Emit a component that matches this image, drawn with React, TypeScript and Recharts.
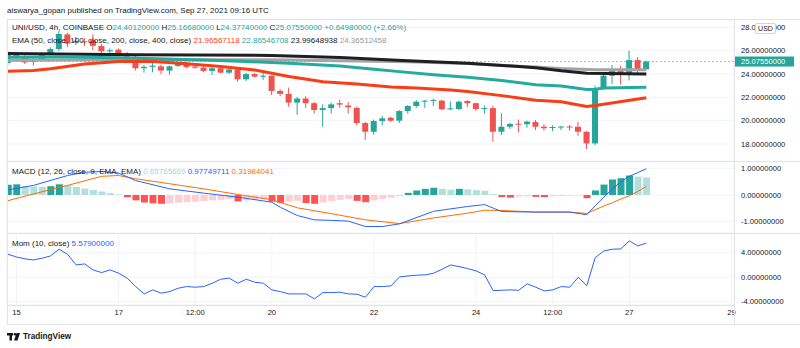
import React from 'react';
import { ComposedChart, Bar, Line, XAxis, YAxis, CartesianGrid, ReferenceLine, Cell } from 'recharts';

// ---------- data ----------
const timeTickIdx = [1, 13, 22, 31, 43, 55, 64, 73, 85];
const timeTickLabels = ['15', '17', '12:00', '20', '22', '24', '12:00', '27', '29'];

const opens = [24.95, 25.72, 25.45, 25.05, 25.25, 25.75, 26.15, 27.4, 26.72, 26.82, 26.9, 26.4, 25.95, 26.1, 25.63, 25.48, 24.5, 24.62, 24.66, 24.3, 24.7, 24.95, 24.65, 24.55, 24.27, 24.5, 24.12, 24.4, 23.55, 24.0, 23.78, 23.85, 22.55, 22.3, 21.55, 21.9, 21.5, 20.92, 21.08, 21.5, 21.3, 21.1, 19.8, 19.05, 19.97, 20.25, 20.0, 20.83, 21.26, 21.63, 21.72, 21.72, 20.98, 21.0, 21.69, 21.5, 21.0, 21.08, 19.05, 19.48, 19.74, 19.7, 19.88, 19.48, 19.38, 19.45, 19.5, 19.48, 19.05, 18.05, 22.8, 23.86, 24.35, 24.0, 25.2, 24.4012];
const highs = [25.96, 25.9, 25.62, 25.5, 25.85, 26.3, 27.7, 27.55, 27.2, 27.1, 27.4, 26.6, 26.2, 26.2, 25.9, 25.65, 24.78, 25.0, 24.8, 24.75, 25.05, 25.05, 24.75, 24.7, 24.65, 24.65, 24.5, 24.5, 24.1, 24.1, 24.2, 23.9, 22.7, 22.85, 22.05, 22.1, 21.6, 21.4, 21.55, 21.8, 21.6, 21.2, 19.9, 20.1, 20.4, 20.35, 20.9, 21.35, 21.75, 21.78, 21.9, 21.8, 21.65, 21.72, 21.75, 21.55, 21.3, 21.3, 20.63, 19.8, 20.1, 20.0, 20.05, 19.7, 19.6, 19.55, 19.62, 19.9, 19.1, 23.0, 24.1, 24.78, 24.7, 26.0, 25.45, 25.1668];
const lows = [24.72, 25.25, 24.85, 24.72, 25.1, 25.68, 26.0, 26.3, 26.5, 26.4, 26.05, 25.8, 25.38, 25.3, 25.3, 24.3, 24.12, 24.15, 24.0, 23.95, 24.6, 24.5, 24.45, 24.15, 23.92, 24.05, 24.0, 23.35, 23.4, 23.7, 23.5, 22.2, 22.1, 21.2, 20.5, 21.1, 20.6, 19.48, 20.6, 21.1, 20.6, 19.6, 18.35, 18.8, 19.6, 19.9, 19.8, 20.6, 21.1, 21.1, 21.25, 20.9, 20.9, 20.9, 21.15, 20.85, 20.6, 18.2, 18.77, 19.3, 19.0, 19.4, 19.2, 19.15, 19.1, 19.2, 19.15, 18.7, 17.57, 17.9, 22.7, 23.15, 23.1, 23.45, 24.05, 24.3774];
const closes = [25.78, 25.45, 25.0, 25.25, 25.75, 26.15, 27.44, 26.62, 26.85, 26.75, 26.42, 25.95, 26.05, 25.63, 25.48, 24.5, 24.62, 24.72, 24.3, 24.66, 24.93, 24.6, 24.55, 24.27, 24.5, 24.12, 24.4, 23.55, 24.0, 23.78, 23.86, 22.55, 22.3, 21.55, 21.9, 21.5, 20.92, 21.08, 21.4, 21.38, 21.15, 19.8, 19.05, 19.97, 20.2, 20.0, 20.83, 21.26, 21.63, 21.72, 21.78, 20.98, 21.06, 21.63, 21.5, 21.0, 21.08, 19.05, 19.48, 19.72, 19.7, 19.92, 19.48, 19.35, 19.46, 19.5, 19.44, 19.05, 18.05, 22.8, 23.86, 24.35, 24.0, 25.2, 24.4, 25.0755];

const ema50Keys: [number, number][] = [[0, 24.24], [3, 24.3], [5, 24.46], [9, 24.87], [13, 25.08], [17, 25.08], [21, 24.88], [25, 24.64], [29, 24.35], [33, 23.8], [37, 23.35], [41, 23.15], [45, 22.9], [48, 22.8], [52, 22.64], [54, 22.5], [58, 22.15], [62, 21.75], [65, 21.62], [68, 21.22], [69, 21.3], [75, 21.97]];
const ema100Keys: [number, number][] = [[0, 25.45], [6, 25.47], [13, 25.4], [23, 25.2], [28, 25.08], [33, 24.93], [39, 24.7], [43, 24.41], [46, 24.21], [50, 23.95], [54, 23.73], [58, 23.45], [62, 23.08], [65, 22.98], [68, 22.67], [69, 22.7], [70, 22.8], [75, 22.87]];
const ema200Keys: [number, number][] = [[0, 25.77], [15, 25.66], [31, 25.6], [39, 25.42], [47, 25.15], [54, 24.93], [62, 24.55], [65, 24.28], [68, 24.08], [75, 24.0]];
const ema400Keys: [number, number][] = [[0, 25.18], [15, 25.22], [31, 25.22], [39, 25.15], [47, 25.05], [54, 24.9], [62, 24.6], [65, 24.47], [69, 24.38], [75, 24.37]];

const macdHist = [0.38, 0.4, 0.33, 0.32, 0.31, 0.33, 0.4, 0.36, 0.3, 0.24, 0.19, 0.13, 0.07, 0.02, -0.08, -0.2, -0.28, -0.31, -0.33, -0.31, -0.29, -0.27, -0.25, -0.22, -0.2, -0.18, -0.15, -0.24, -0.2, -0.18, -0.15, -0.25, -0.29, -0.25, -0.22, -0.3, -0.33, -0.28, -0.22, -0.18, -0.15, -0.22, -0.27, -0.2, -0.15, -0.1, -0.05, 0.08, 0.17, 0.23, 0.27, 0.23, 0.2, 0.23, 0.21, 0.18, 0.16, 0.03, -0.08, -0.1, -0.06, -0.05, -0.07, -0.08, -0.05, -0.04, -0.03, -0.02, -0.12, 0.17, 0.39, 0.58, 0.63, 0.73, 0.69, 0.66];
const macdKeys: [number, number][] = [[0, 0.19], [3, 0.36], [7, 0.73], [9, 0.85], [11, 0.88], [13, 0.82], [15, 0.54], [19, 0.23], [23, 0.07], [27, -0.08], [31, -0.27], [32, -0.46], [34, -0.77], [36, -0.93], [38, -0.95], [40, -0.98], [42, -1.18], [44, -1.18], [46, -1.08], [50, -0.61], [54, -0.43], [56, -0.36], [58, -0.62], [62, -0.64], [66, -0.64], [68, -0.74], [69, -0.4], [70, -0.08], [71, 0.23], [72, 0.49], [73, 0.7], [74, 0.84], [75, 0.98]];
const signalKeys: [number, number][] = [[0, -0.21], [3, 0.04], [7, 0.36], [11, 0.7], [13, 0.73], [15, 0.61], [19, 0.42], [23, 0.23], [27, 0.02], [31, -0.18], [34, -0.48], [38, -0.7], [42, -0.93], [46, -1.07], [50, -0.86], [54, -0.68], [56, -0.57], [58, -0.58], [62, -0.64], [66, -0.64], [68, -0.69], [70, -0.41], [71, -0.29], [72, -0.15], [73, -0.03], [74, 0.13], [75, 0.32]];

const momValues = [3.75, 3.3, 3.0, 2.82, 3.1, 3.48, 4.57, 3.75, 2.0, 2.17, 1.19, 0.76, 1.19, 0.65, -0.16, -1.53, -2.73, -2.07, -2.61, -2.35, -1.8, -1.53, -1.63, -1.53, -0.98, -0.33, -0.16, -0.98, -0.33, -0.82, -0.98, -2.07, -2.35, -2.73, -2.73, -2.73, -3.54, -2.51, -2.51, -2.45, -2.73, -2.78, -3.27, -1.53, -1.53, -1.42, 0.05, 0.2, 0.33, 0.38, 0.65, 1.3, 2.0, 1.73, 1.41, 1.03, 0.38, -2.19, -2.14, -2.07, -2.14, -1.09, -1.63, -2.24, -2.07, -1.53, -1.63, 0.0, -1.37, 3.2, 4.29, 4.57, 4.62, 5.93, 5.11, 5.58];

const priceTicks = [18, 20, 22, 24, 26, 28];
const macdTicks = [-1, 0, 1];
const momTicks = [-4, 0, 4];
const lastClose = 25.0755;

// ---------- styles ----------
const FONT = '"Liberation Sans", Arial, sans-serif';
const FS = 7.6;
const TXT = '#131722';
const GRID = '#f0f3fa';
const FRAME = '#e0e3eb';
const UP = '#26a69a';
const DOWN = '#ef5350';
const X_DOMAIN: [number, number] = [-0.12, 85.3];

const toMap = (k: [number, number][]) => new Map(k);
const m50 = toMap(ema50Keys), m100 = toMap(ema100Keys), m200 = toMap(ema200Keys), m400 = toMap(ema400Keys);
const mMacd = toMap(macdKeys), mSig = toMap(signalKeys);

const rows = opens.map((o, i) => ({
  i,
  o,
  h: highs[i],
  l: lows[i],
  c: closes[i],
  range: [lows[i], highs[i]],
  e50: m50.has(i) ? m50.get(i) : null,
  e100: m100.has(i) ? m100.get(i) : null,
  e200: m200.has(i) ? m200.get(i) : null,
  e400: m400.has(i) ? m400.get(i) : null,
  hist: macdHist[i],
  macd: mMacd.has(i) ? mMacd.get(i) : null,
  sig: mSig.has(i) ? mSig.get(i) : null,
  mom: momValues[i],
}));

const histColor = (i: number) => {
  const v = macdHist[i];
  const p = i > 0 ? macdHist[i - 1] : v;
  if (v >= 0) return v >= p ? '#26a69a' : '#b2dfdb';
  return v < p ? '#ff5252' : '#ffcdd2';
};

const Candle = (props: any) => {
  const { x, y, width, height, payload } = props;
  if (!payload) return null;
  const top = Math.min(y, y + height);
  const bot = Math.max(y, y + height);
  const { o, h, l, c } = payload;
  const ppu = (bot - top) / (h - l);
  const cx = x + width / 2;
  const color = c >= o ? UP : DOWN;
  const bTop = top + (h - Math.max(o, c)) * ppu;
  const bBot = top + (h - Math.min(o, c)) * ppu;
  return (
    <g>
      <line x1={cx} x2={cx} y1={top} y2={bot} stroke={color} strokeWidth={1} />
      <rect x={cx - 3} y={bTop} width={6} height={Math.max(1, bBot - bTop)} fill={color} />
    </g>
  );
};

const PriceLabel = (props: any) => {
  const vb = props.viewBox || {};
  const x = (vb.x || 0) + (vb.width || 0);
  const y = vb.y || 0;
  return (
    <g>
      <rect x={x} y={y - 5} width={60} height={10} fill={UP} />
      <text x={x + 7} y={y} dy="0.35em" fill="#fff" fontSize={FS} fontFamily={FONT}>
        {lastClose.toFixed(8)}
      </text>
    </g>
  );
};

const yTick = { fill: TXT, fontSize: FS, fontFamily: FONT };

const hiddenX = (
  <XAxis type="number" dataKey="i" domain={X_DOMAIN} ticks={timeTickIdx} height={0} tick={false} axisLine={false} tickLine={false} allowDataOverflow />
);

const legendStyle: React.CSSProperties = {
  position: 'absolute',
  left: 12,
  fontSize: 8,
  lineHeight: '10px',
  whiteSpace: 'nowrap',
  color: TXT,
  fontFamily: FONT,
};

export default function App() {
  return (
    <div style={{ position: 'absolute', left: 0, top: 0, width: 800, height: 348, background: '#fff', overflow: 'hidden', fontFamily: FONT }}>
      {/* main price pane */}
      <div style={{ position: 'absolute', left: 0, top: 0 }}>
        <ComposedChart width={800} height={161} data={rows} margin={{ top: 20, right: 0, bottom: 0, left: 7 }}>
          <CartesianGrid stroke={GRID} />
          {hiddenX}
          <YAxis orientation="right" width={66} domain={[16.54, 28.64]} ticks={priceTicks} tickFormatter={(v: number) => v.toFixed(8)} axisLine={false} tickLine={false} tickSize={0} tickMargin={7} tick={yTick} allowDataOverflow />
          <ReferenceLine y={lastClose} stroke="#26a69a" strokeOpacity={0.55} strokeDasharray="2 2" label={<PriceLabel />} />
          <Bar dataKey="range" shape={<Candle />} barSize={6} isAnimationActive={false} />
          <Line dataKey="e400" stroke="#a4a4a4" strokeWidth={3} dot={false} connectNulls isAnimationActive={false} />
          <Line dataKey="e200" stroke="#1f1f23" strokeWidth={3} dot={false} connectNulls isAnimationActive={false} />
          <Line dataKey="e100" stroke="#22ab9e" strokeWidth={3} dot={false} connectNulls isAnimationActive={false} />
          <Line dataKey="e50" stroke="#fb3d17" strokeWidth={3} dot={false} connectNulls isAnimationActive={false} />
        </ComposedChart>
      </div>

      {/* MACD pane */}
      <div style={{ position: 'absolute', left: 0, top: 161 }}>
        <ComposedChart width={800} height={72} data={rows} margin={{ top: 0, right: 0, bottom: 0, left: 7 }}>
          <CartesianGrid stroke={GRID} />
          {hiddenX}
          <YAxis orientation="right" width={66} domain={[-1.423, 1.273]} ticks={macdTicks} tickFormatter={(v: number) => v.toFixed(8)} axisLine={false} tickLine={false} tickSize={0} tickMargin={7} tick={yTick} allowDataOverflow />
          <Bar dataKey="hist" barSize={7} isAnimationActive={false}>
            {rows.map((r) => (
              <Cell key={r.i} fill={histColor(r.i)} />
            ))}
          </Bar>
          <Line dataKey="sig" stroke="#ff6d00" strokeWidth={1} dot={false} connectNulls isAnimationActive={false} />
          <Line dataKey="macd" stroke="#2962ff" strokeWidth={1} dot={false} connectNulls isAnimationActive={false} />
        </ComposedChart>
      </div>

      {/* Momentum pane + time axis */}
      <div style={{ position: 'absolute', left: 0, top: 233 }}>
        <ComposedChart width={800} height={91} data={rows} margin={{ top: 0, right: 0, bottom: 0, left: 7 }}>
          <CartesianGrid stroke={GRID} />
          <XAxis type="number" dataKey="i" domain={X_DOMAIN} ticks={timeTickIdx} height={19} axisLine={false} tickLine={false} tickSize={0} tickMargin={5}
            tickFormatter={(v: number) => timeTickLabels[timeTickIdx.indexOf(v)] ?? ''} tick={yTick} interval={0} allowDataOverflow />
          <YAxis orientation="right" width={66} domain={[-4.54, 7.22]} ticks={momTicks} tickFormatter={(v: number) => v.toFixed(8)} axisLine={false} tickLine={false} tickSize={0} tickMargin={7} tick={yTick} allowDataOverflow />
          <Line dataKey="mom" stroke="#2962ff" strokeWidth={1} dot={false} isAnimationActive={false} />
        </ComposedChart>
      </div>

      {/* frame */}
      <svg width={800} height={348} style={{ position: 'absolute', left: 0, top: 0, pointerEvents: 'none' }}>
        <g stroke={FRAME} strokeWidth={1} fill="none">
          <line x1={7} x2={800} y1={19.5} y2={19.5} />
          <line x1={7.5} x2={7.5} y1={19.5} y2={324.5} />
          <line x1={734.5} x2={734.5} y1={19.5} y2={324.5} />
          <line x1={7} x2={800} y1={161.5} y2={161.5} />
          <line x1={7} x2={800} y1={233.5} y2={233.5} />
          <line x1={7} x2={734} y1={305.5} y2={305.5} />
          <line x1={7} x2={800} y1={324.5} y2={324.5} />
        </g>
        {/* TradingView logo mark */}
        <g fill={TXT}>
          <rect x={7} y={333} width={6} height={2.5} />
          <rect x={9.5} y={333} width={2.5} height={7.5} />
          <circle cx={15} cy={334.3} r={1.3} />
          <polygon points="16.5,333 20,333 17.5,340.5 14,340.5" />
        </g>
      </svg>

      {/* texts */}
      <div style={{ ...legendStyle, left: 7, top: 6 }}>aiswarya_gopan published on TradingView.com, Sep 27, 2021 09:16 UTC</div>
      <div style={{ ...legendStyle, top: 23 }}>
        UNI/USD, 4h, COINBASE{' '}O<span style={{ color: UP }}>24.40120000</span> H<span style={{ color: UP }}>25.16680000</span> L<span style={{ color: UP }}>24.37740000</span> C<span style={{ color: UP }}>25.07550000</span> <span style={{ color: UP }}>+0.64980000 (+2.66%)</span>
      </div>
      <div style={{ ...legendStyle, top: 36 }}>
        EMA (50, close, 100, close, 200, close, 400, close){' '}
        <span style={{ color: '#fb3d17' }}>21.96567118</span> <span style={{ color: '#22ab9e' }}>22.86546708</span> <span style={{ color: TXT }}>23.99648938</span> <span style={{ color: '#9598a1' }}>24.36512458</span>
      </div>
      <div style={{ ...legendStyle, top: 167 }}>
        MACD (12, 26, close, 9, EMA, EMA){' '}
        <span style={{ color: '#a7d8d2' }}>0.65765669</span> <span style={{ color: '#2962ff' }}>0.97749711</span> <span style={{ color: '#ff6d00' }}>0.31984041</span>
      </div>
      <div style={{ ...legendStyle, top: 239 }}>
        Mom (10, close){' '}<span style={{ color: '#2962ff' }}>5.57900000</span>
      </div>
      <div style={{ position: 'absolute', left: 755, top: 22.5, width: 19, height: 9, border: '1px solid #d1d4dc', borderRadius: 2, background: '#fff', fontSize: 7, lineHeight: '9px', textAlign: 'center', color: TXT, fontFamily: FONT }}>USD</div>
      <div style={{ position: 'absolute', left: 23, top: 331.5, fontSize: 8.2, lineHeight: '10px', color: TXT, fontFamily: FONT, fontWeight: 700 }}>TradingView</div>
    </div>
  );
}
